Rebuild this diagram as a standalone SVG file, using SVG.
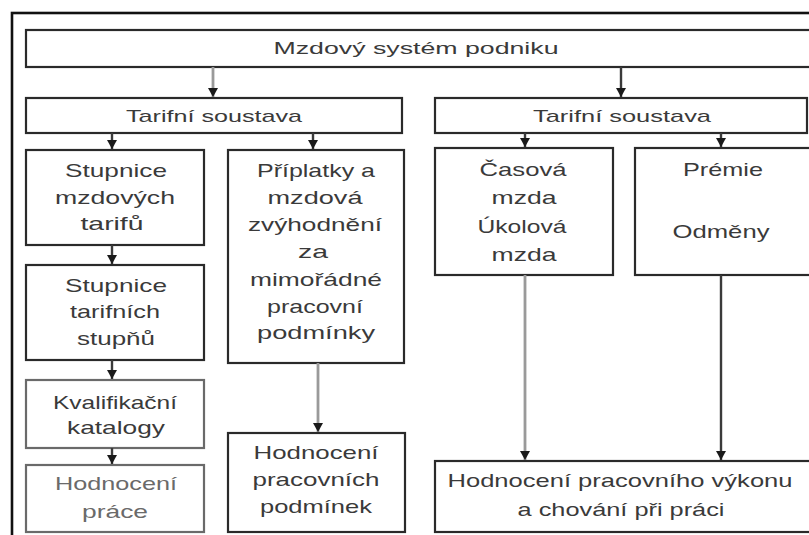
<svg xmlns="http://www.w3.org/2000/svg" width="809" height="535" viewBox="0 0 809 535">
<style>
.box{fill:#fff;stroke:#2a2a2a;stroke-width:2.2}
.gbox{fill:#fff;stroke:#6a6a6a;stroke-width:2.2}
.t{font-family:"Liberation Sans",Arial,sans-serif;font-size:19px;fill:#3a3a3a;text-anchor:middle}
.s{font-size:17px}
.lt{fill:#6a6a6a}
.c{fill:none;stroke:#3a3a3a;stroke-width:2.4}
.cg{fill:none;stroke:#9a9a9a;stroke-width:2.8}
</style>
<defs>
<marker id="ah" markerUnits="userSpaceOnUse" markerWidth="9" markerHeight="10" viewBox="0 0 9 10" refX="9" refY="5" orient="auto">
<path d="M0,0 L9,5 L0,10 Z" fill="#1a1a1a"/>
</marker>
</defs>
<rect width="809" height="535" fill="#fff"/>
<rect x="12" y="13" width="820" height="540" fill="none" stroke="#111" stroke-width="2.6"/>

<g id="n-mzdovy">
<rect class="box" x="26" y="30" width="800" height="37"/>
<text class="t s" x="416" y="54" textLength="285" lengthAdjust="spacingAndGlyphs">Mzdový systém podniku</text>
</g>
<g id="n-tarif-l">
<rect class="box" x="26" y="98" width="376" height="35"/>
<text class="t s" x="214" y="122" textLength="176" lengthAdjust="spacingAndGlyphs">Tarifní soustava</text>
</g>
<g id="n-tarif-r">
<rect class="box" x="435" y="98" width="372" height="35"/>
<text class="t s" x="622" y="122" textLength="178" lengthAdjust="spacingAndGlyphs">Tarifní soustava</text>
</g>
<g id="n-stupnice-mzd">
<rect class="box" x="26" y="150" width="178" height="95"/>
<text class="t" x="116" y="177" textLength="102" lengthAdjust="spacingAndGlyphs">Stupnice</text>
<text class="t" x="115" y="204" textLength="120" lengthAdjust="spacingAndGlyphs">mzdových</text>
<text class="t" x="112" y="230" textLength="63" lengthAdjust="spacingAndGlyphs">tarifů</text>
</g>
<g id="n-stupnice-tar">
<rect class="box" x="26" y="265" width="178" height="95"/>
<text class="t" x="116" y="292" textLength="102" lengthAdjust="spacingAndGlyphs">Stupnice</text>
<text class="t" x="115" y="318" textLength="90" lengthAdjust="spacingAndGlyphs">tarifních</text>
<text class="t" x="116" y="345" textLength="78" lengthAdjust="spacingAndGlyphs">stupňů</text>
</g>
<g id="n-kvalifikacni">
<rect class="gbox" x="26" y="380" width="178" height="68"/>
<text class="t" x="115" y="409" textLength="124" lengthAdjust="spacingAndGlyphs">Kvalifikační</text>
<text class="t" x="116" y="434" textLength="98" lengthAdjust="spacingAndGlyphs">katalogy</text>
</g>
<g id="n-hodnoceni-prace">
<rect class="gbox" x="26" y="465" width="178" height="67"/>
<text class="t lt" x="116" y="490" textLength="122" lengthAdjust="spacingAndGlyphs">Hodnocení</text>
<text class="t lt" x="115" y="518" textLength="66" lengthAdjust="spacingAndGlyphs">práce</text>
</g>
<g id="n-priplatky">
<rect class="box" x="228" y="150" width="176" height="213"/>
<text class="t" x="316" y="177" textLength="118" lengthAdjust="spacingAndGlyphs">Příplatky a</text>
<text class="t" x="315" y="204" textLength="95" lengthAdjust="spacingAndGlyphs">mzdová</text>
<text class="t" x="315" y="231" textLength="134" lengthAdjust="spacingAndGlyphs">zvýhodnění</text>
<text class="t" x="313" y="258" textLength="30" lengthAdjust="spacingAndGlyphs">za</text>
<text class="t" x="316" y="286" textLength="132" lengthAdjust="spacingAndGlyphs">mimořádné</text>
<text class="t" x="315" y="313" textLength="96" lengthAdjust="spacingAndGlyphs">pracovní</text>
<text class="t" x="316" y="339" textLength="118" lengthAdjust="spacingAndGlyphs">podmínky</text>
</g>
<g id="n-hodnoceni-podminek">
<rect class="box" x="228" y="433" width="177" height="99"/>
<text class="t" x="316" y="459" textLength="125" lengthAdjust="spacingAndGlyphs">Hodnocení</text>
<text class="t" x="316" y="486" textLength="127" lengthAdjust="spacingAndGlyphs">pracovních</text>
<text class="t" x="316" y="513" textLength="112" lengthAdjust="spacingAndGlyphs">podmínek</text>
</g>
<g id="n-casova">
<rect class="box" x="435" y="148" width="178" height="127"/>
<text class="t" x="523" y="176" textLength="87" lengthAdjust="spacingAndGlyphs">Časová</text>
<text class="t" x="524" y="204" textLength="65" lengthAdjust="spacingAndGlyphs">mzda</text>
<text class="t" x="522" y="233" textLength="89" lengthAdjust="spacingAndGlyphs">Úkolová</text>
<text class="t" x="524" y="261" textLength="65" lengthAdjust="spacingAndGlyphs">mzda</text>
</g>
<g id="n-premie">
<rect class="box" x="635" y="148" width="190" height="127"/>
<text class="t" x="723" y="176" textLength="80" lengthAdjust="spacingAndGlyphs">Prémie</text>
<text class="t" x="721" y="238" textLength="97" lengthAdjust="spacingAndGlyphs">Odměny</text>
</g>
<g id="n-hodnoceni-vykonu">
<rect class="box" x="435" y="461" width="390" height="71"/>
<text class="t" x="620" y="487" textLength="345" lengthAdjust="spacingAndGlyphs">Hodnocení pracovního výkonu</text>
<text class="t" x="621" y="516" textLength="207" lengthAdjust="spacingAndGlyphs">a chování při práci</text>
</g>

<g id="connectors">
<path class="cg" d="M213,67 V97" marker-end="url(#ah)"/>
<path class="c" d="M621,67 V97" marker-end="url(#ah)"/>
<path class="c" d="M112,133 V149" marker-end="url(#ah)"/>
<path class="c" d="M313,133 V149" marker-end="url(#ah)"/>
<path class="c" d="M525,133 V147" marker-end="url(#ah)"/>
<path class="c" d="M721,133 V147" marker-end="url(#ah)"/>
<path class="c" d="M112,245 V264" marker-end="url(#ah)"/>
<path class="c" d="M112,360 V379" marker-end="url(#ah)"/>
<path class="c" d="M112,448 V464" marker-end="url(#ah)"/>
<path class="cg" d="M318,363 V432" marker-end="url(#ah)"/>
<path class="cg" d="M525,275 V460" marker-end="url(#ah)"/>
<path class="c" d="M721,275 V460" marker-end="url(#ah)"/>
</g>
</svg>
